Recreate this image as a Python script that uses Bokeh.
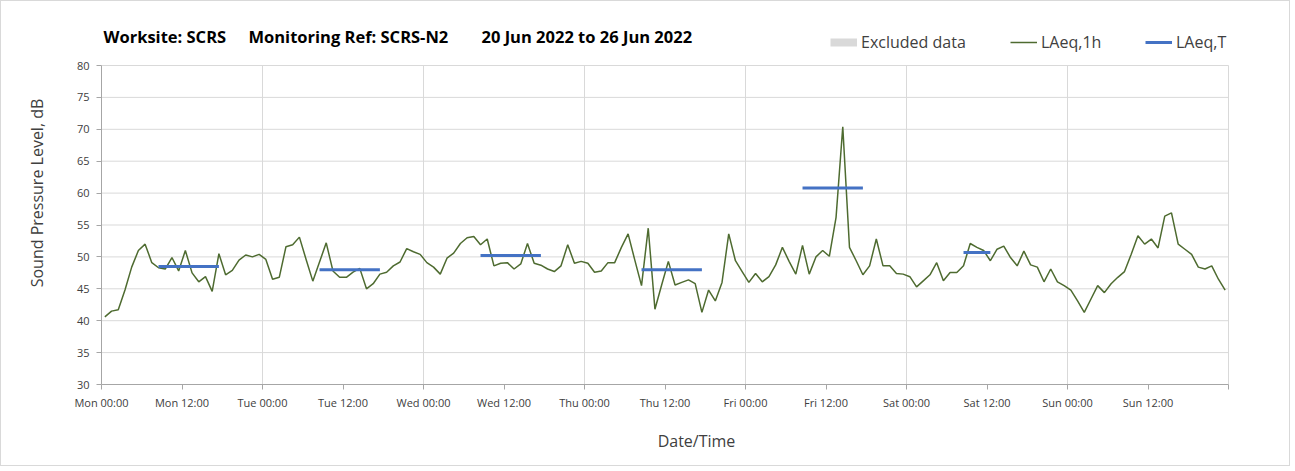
from bokeh.plotting import figure
from bokeh.models import Range1d, FixedTicker, Label, Legend, LegendItem
from bokeh.embed import file_html
from bokeh.resources import INLINE

# ---------------- data ----------------
laeq_1h = [
    40.6, 41.5, 41.7, 44.8, 48.4, 51.0, 52.0, 49.1, 48.3, 48.1, 49.9, 47.8,
    51.0, 47.5, 46.1, 46.9, 44.6, 50.5, 47.2, 47.9, 49.5, 50.3, 50.0, 50.4,
    49.6, 46.5, 46.8, 51.6, 51.9, 53.1, 49.6, 46.2, 49.2, 52.2, 47.8, 46.8,
    46.8, 47.6, 48.2, 45.0, 45.8, 47.3, 47.6, 48.6, 49.2, 51.3, 50.8, 50.4,
    49.1, 48.4, 47.3, 49.8, 50.6, 52.1, 53.0, 53.2, 51.9, 52.8, 48.6, 49.0,
    49.1, 48.1, 48.9, 52.1, 49.0, 48.7, 48.1, 47.7, 48.6, 51.9, 49.0, 49.3,
    49.0, 47.6, 47.8, 49.1, 49.1, 51.5, 53.6, 49.5, 45.5, 54.5, 41.8, 45.6,
    49.3, 45.6, 46.0, 46.4, 45.8, 41.3, 44.8, 43.1, 46.0, 53.6, 49.4, 47.7,
    46.0, 47.4, 46.1, 46.9, 48.75, 51.5, 49.3, 47.3, 51.8, 47.3, 50.0, 51.0,
    50.1, 56.2, 70.4, 51.5, 49.4, 47.2, 48.6, 52.8, 48.6, 48.6, 47.4, 47.3,
    46.9, 45.3, 46.25, 47.2, 49.1, 46.25, 47.55, 47.55, 48.6, 52.1, 51.5, 51.0,
    49.4, 51.2, 51.7, 49.9, 48.6, 50.9, 48.75, 48.4, 46.1, 48.1, 46.1, 45.5,
    44.8, 43.1, 41.3, 43.4, 45.5, 44.4, 45.8, 46.8, 47.7, 50.4, 53.3, 52.0,
    52.8, 51.4, 56.4, 56.9, 52.0, 51.2, 50.4, 48.4, 48.1, 48.6, 46.5, 44.8,
]
hours = [k + 0.5 for k in range(len(laeq_1h))]   # hour mid-points from Mon 00:00

period_start = [8.5, 32.5, 56.5, 80.5, 104.5, 128.5]
period_end = [17.5, 41.5, 65.5, 89.5, 113.5, 132.5]
laeq_t = [48.5, 48.0, 50.2, 48.0, 60.8, 50.7]

# no excluded periods in this week (legend entry only)
excluded_hours = [float("nan")]
excluded_level = [float("nan")]

tick_hours = list(range(0, 169, 12))
tick_labels = ["Mon 00:00", "Mon 12:00", "Tue 00:00", "Tue 12:00",
               "Wed 00:00", "Wed 12:00", "Thu 00:00", "Thu 12:00",
               "Fri 00:00", "Fri 12:00", "Sat 00:00", "Sat 12:00",
               "Sun 00:00", "Sun 12:00", ""]
grid_hours = list(range(24, 169, 24))
y_ticks = list(range(30, 81, 5))
X_MIN, X_MAX = 0, 168
Y_MIN, Y_MAX = 30, 80

# ---------------- layout (pixels) ----------------
W, H = 1290, 466
LEFT = 100          # canvas x of Mon 00:00 axis
BOTTOM_PX = 383     # canvas y of 30 dB axis
TOP_PX = 64         # canvas y of 80 dB
RIGHT_PX = 1227     # canvas x of end of week
frame_w = W - LEFT
frame_h = BOTTOM_PX
x_end = X_MIN + (X_MAX - X_MIN) * frame_w / (RIGHT_PX - LEFT)
y_end = Y_MIN + (Y_MAX - Y_MIN) * frame_h / (BOTTOM_PX - TOP_PX)

FONT = "Open Sans"
GREEN = "#4e6b30"
BLUE = "#4472C4"
GRID = "#d9d9d9"
AXIS = "#a6a6a6"
TXT = "#404040"

p = figure(width=W, height=H, output_backend="svg", toolbar_location=None,
           x_range=Range1d(X_MIN, x_end), y_range=Range1d(Y_MIN, y_end),
           min_border_left=LEFT, min_border_right=0, min_border_top=0,
           min_border_bottom=H - BOTTOM_PX, outline_line_color=None,
           background_fill_color="white", border_fill_color="white",
           styles={"border": "1px solid #d9d9d9"})

# axes
p.xaxis.ticker = FixedTicker(ticks=tick_hours, minor_ticks=[])
p.xaxis.major_label_overrides = {h: l for h, l in zip(tick_hours, tick_labels)}
p.yaxis.ticker = FixedTicker(ticks=y_ticks, minor_ticks=[])
p.xaxis.bounds = (X_MIN, X_MAX)
p.yaxis.bounds = (Y_MIN, Y_MAX)
for ax in (p.xaxis[0], p.yaxis[0]):
    ax.axis_line_color = AXIS
    ax.major_tick_line_color = AXIS
    ax.major_tick_in = 0
    ax.major_tick_out = 5
    ax.minor_tick_line_color = None
    ax.major_label_text_font = FONT
    ax.major_label_text_font_size = "11px"
    ax.major_label_text_color = TXT
    ax.axis_label_text_font = FONT
    ax.axis_label_text_font_size = "16px"
    ax.axis_label_text_font_style = "normal"
    ax.axis_label_text_color = TXT
p.xaxis.axis_label = "Date/Time"
p.yaxis.axis_label = "Sound Pressure Level, dB"
p.xaxis.major_label_standoff = 5
p.yaxis.major_label_standoff = 7
p.xaxis.axis_label_standoff = 17
p.yaxis.axis_label_standoff = 26

# grid lines limited to the plotting area
p.xgrid.visible = False
p.ygrid.visible = False
p.segment(x0=X_MIN, x1=X_MAX, y0=y_ticks[1:], y1=y_ticks[1:],
          line_color=GRID, line_width=1)
p.segment(x0=grid_hours, x1=grid_hours, y0=Y_MIN, y1=Y_MAX,
          line_color=GRID, line_width=1)

# data glyphs
r_excl = p.line(excluded_hours, excluded_level, line_width=8, line_color="#d9d9d9")
r_1h = p.line(hours, laeq_1h, line_color=GREEN, line_width=1.5)
r_t = p.segment(x0=period_start, y0=laeq_t, x1=period_end, y1=laeq_t,
                line_color=BLUE, line_width=3)

# legends (each positioned individually, frame-relative)
def add_leg(label, rend, x):
    leg = Legend(items=[LegendItem(label=label, renderers=[rend])],
                 location=(x, 331), orientation="horizontal",
                 border_line_color=None, background_fill_alpha=0,
                 padding=0, margin=0, spacing=0, glyph_width=27,
                 glyph_height=20, label_height=20, label_standoff=4,
                 label_text_font=FONT, label_text_font_size="16px",
                 label_text_color=TXT)
    p.add_layout(leg)

add_leg("Excluded data", r_excl, 729)
add_leg("LAeq,1h", r_1h, 909)
add_leg("LAeq,T", r_t, 1044)

# title pieces
for txt, x in [("Worksite: SCRS", 2), ("Monitoring Ref: SCRS-N2", 147),
               ("20 Jun 2022 to 26 Jun 2022", 380)]:
    p.add_layout(Label(x=x, y=348, x_units="screen", y_units="screen", text=txt,
                       text_font=FONT, text_font_size="16.5px",
                       text_font_style="bold", text_color="#000000",
                       text_baseline="middle", text_align="left"))

open("out.html", "w").write(file_html(p, INLINE))
